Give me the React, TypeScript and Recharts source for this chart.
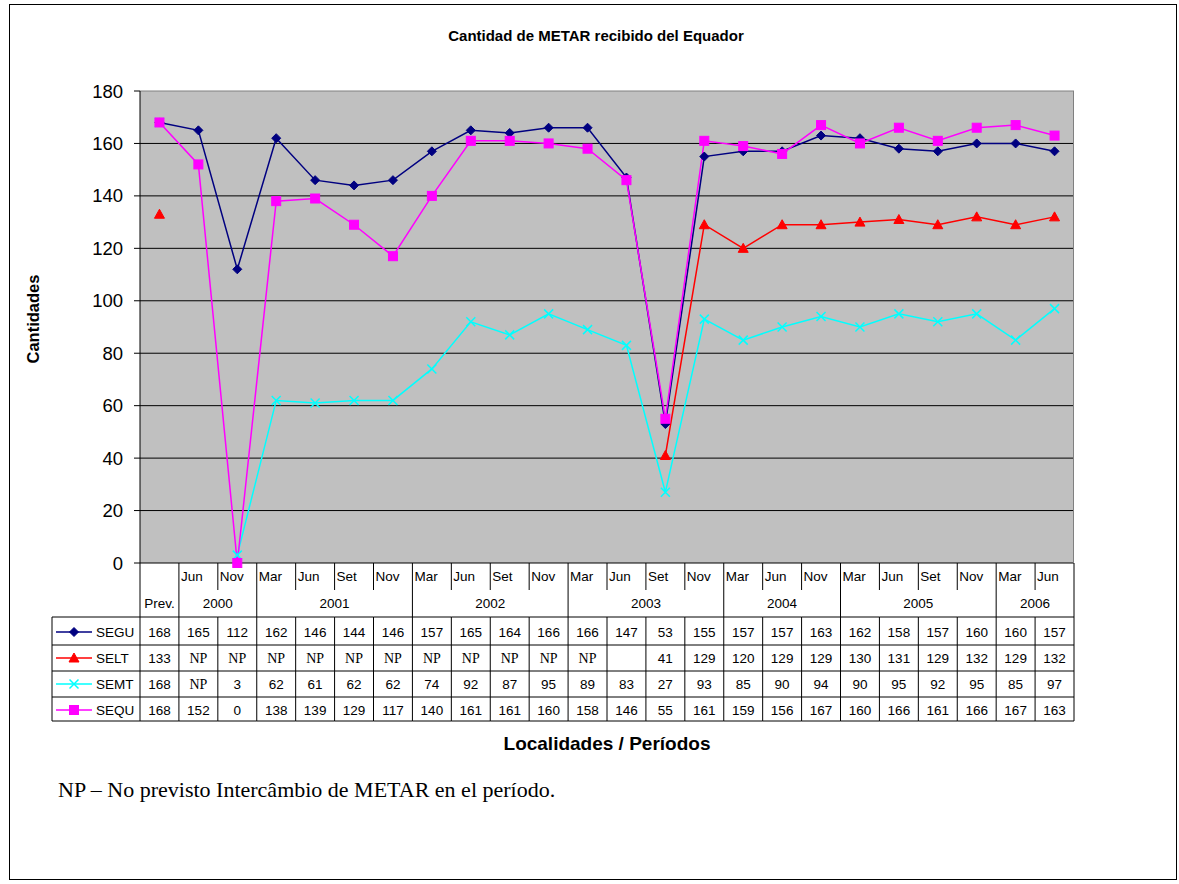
import React from 'react';
import { ComposedChart, Line, XAxis, YAxis, CartesianGrid, ReferenceLine } from 'recharts';

// columns of the data table (Prev. + periods)
const months = ['', 'Jun', 'Nov', 'Mar', 'Jun', 'Set', 'Nov', 'Mar', 'Jun', 'Set', 'Nov', 'Mar', 'Jun', 'Set', 'Nov', 'Mar', 'Jun', 'Nov', 'Mar', 'Jun', 'Set', 'Nov', 'Mar', 'Jun'];
const yearLabels = ['Prev.', '2000', '2001', '2002', '2003', '2004', '2005', '2006'];
const yearSpans = [1, 2, 4, 4, 4, 3, 4, 2];

const segu: (number | string)[] = [168, 165, 112, 162, 146, 144, 146, 157, 165, 164, 166, 166, 147, 53, 155, 157, 157, 163, 162, 158, 157, 160, 160, 157];
const selt: (number | string)[] = [133, 'NP', 'NP', 'NP', 'NP', 'NP', 'NP', 'NP', 'NP', 'NP', 'NP', 'NP', '', 41, 129, 120, 129, 129, 130, 131, 129, 132, 129, 132];
const semt: (number | string)[] = [168, 'NP', 3, 62, 61, 62, 62, 74, 92, 87, 95, 89, 83, 27, 93, 85, 90, 94, 90, 95, 92, 95, 85, 97];
const sequ: (number | string)[] = [168, 152, 0, 138, 139, 129, 117, 140, 161, 161, 160, 158, 146, 55, 161, 159, 156, 167, 160, 166, 161, 166, 167, 163];

const yTicks = [0, 20, 40, 60, 80, 100, 120, 140, 160, 180];

const series = [
  { key: 'SEGU', values: segu, color: '#000080', marker: 'diamond' },
  { key: 'SELT', values: selt, color: '#FF0000', marker: 'triangle' },
  { key: 'SEMT', values: semt, color: '#00FFFF', marker: 'cross' },
  { key: 'SEQU', values: sequ, color: '#FF00FF', marker: 'square' },
];

const num = (v: number | string) => (typeof v === 'number' ? v : null);

const data = months.map((m, i) => ({
  key: String(i),
  SEGU: num(segu[i]),
  SELT: num(selt[i]),
  SEMT: num(semt[i]),
  SEQU: num(sequ[i]),
}));

// year group starts
const groupAt: { [i: number]: { label: string; span: number } } = {};
{
  let c = 0;
  yearLabels.forEach((label, g) => {
    groupAt[c] = { label, span: yearSpans[g] };
    c += yearSpans[g];
  });
}

const W = 1179;
const H = 884;
const PLOT_L = 140;
const PLOT_R = 1074;
const PLOT_T = 91;
const PLOT_B = 563;
const COL_W = (PLOT_R - PLOT_L) / months.length;
const TABLE_H = 158;
const ROW_LINES = [54, 82, 108, 134, 158];
const ROW_BASE = [74, 100, 126, 152];
const LEGEND_L = 52;

const SANS = '"Liberation Sans", Arial, sans-serif';
const SERIF = '"Liberation Serif", "Times New Roman", serif';

function Marker({ type, cx, cy, color }: any) {
  if (type === 'diamond') {
    const s = 4.5;
    return <path d={`M${cx},${cy - s}L${cx + s},${cy}L${cx},${cy + s}L${cx - s},${cy}Z`} fill={color} stroke={color} />;
  }
  if (type === 'triangle') {
    return <path d={`M${cx},${cy - 5}L${cx + 5},${cy + 4}L${cx - 5},${cy + 4}Z`} fill={color} stroke={color} />;
  }
  if (type === 'square') {
    return <rect x={cx - 4.5} y={cy - 4.5} width={9} height={9} fill={color} stroke={color} />;
  }
  const s = 4.5;
  return (
    <path d={`M${cx - s},${cy - s}L${cx + s},${cy + s}M${cx - s},${cy + s}L${cx + s},${cy - s}`} stroke={color} strokeWidth={1.5} fill="none" />
  );
}

const makeDot = (type: string, color: string) => (p: any) => {
  const k = `dot-${type}-${p.index}`;
  if (p.cy == null || p.value == null || Number.isNaN(p.cy)) return <g key={k} />;
  return (
    <g key={k}>
      <Marker type={type} cx={p.cx} cy={p.cy} color={color} />
    </g>
  );
};

function TableTick(props: any) {
  const { x, y, payload } = props;
  const i = Number(payload.value);
  const left = x - COL_W / 2;
  const right = x + COL_W / 2;
  const group = groupAt[i];
  const line = (x1: number, y1: number, x2: number, y2: number, k: string) => (
    <line key={k} x1={x1} y1={y1} x2={x2} y2={y2} stroke="#000" strokeWidth={1} />
  );
  const els: any[] = [];

  // vertical separators
  if (i === 0) els.push(line(left, y, left, y + TABLE_H, 'l0'));
  else if (group) els.push(line(left, y, left, y + TABLE_H, 'lg'));
  else {
    els.push(line(left, y, left, y + 27, 'lm'));
    els.push(line(left, y + ROW_LINES[0], left, y + TABLE_H, 'ld'));
  }
  if (i === months.length - 1) els.push(line(right, y, right, y + TABLE_H, 'r'));

  // horizontal row lines
  ROW_LINES.forEach((ry, r) => {
    els.push(line(i === 0 ? LEGEND_L : left, y + ry, right, y + ry, `h${r}`));
  });

  // month label
  if (months[i]) {
    els.push(
      <text key="m" x={left + 2} y={y + 18} fontSize={13.5} fontFamily={SANS} fill="#000">
        {months[i]}
      </text>
    );
  }
  // year label
  if (group) {
    els.push(
      <text key="yr" x={left + (group.span * COL_W) / 2} y={y + 45} fontSize={13.5} fontFamily={SANS} fill="#000" textAnchor="middle">
        {group.label}
      </text>
    );
  }
  // values
  series.forEach((s, r) => {
    const v = s.values[i];
    if (v === '') return;
    const isNP = typeof v !== 'number';
    els.push(
      <text
        key={`v${r}`}
        x={x}
        y={y + ROW_BASE[r]}
        fontSize={isNP ? 14 : 13.5}
        fontFamily={isNP ? SERIF : SANS}
        fill="#000"
        textAnchor="middle"
      >
        {v}
      </text>
    );
  });

  // legend column
  if (i === 0) {
    els.push(line(LEGEND_L, y + ROW_LINES[0], LEGEND_L, y + TABLE_H, 'll'));
    series.forEach((s, r) => {
      const cy = y + ROW_BASE[r] - 5;
      els.push(
        <g key={`lm${r}`}>
          <line x1={56} y1={cy} x2={92} y2={cy} stroke={s.color} strokeWidth={1.5} />
          <Marker type={s.marker} cx={74} cy={cy} color={s.color} />
          <text x={96} y={y + ROW_BASE[r]} fontSize={13.5} fontFamily={SANS} fill="#000">
            {s.key}
          </text>
        </g>
      );
    });
  }
  return <g>{els}</g>;
}

export default function App() {
  return (
    <div style={{ position: 'absolute', left: 0, top: 0, width: W, height: H, background: '#fff' }}>
      <div
        style={{
          position: 'absolute',
          left: 9,
          top: 4,
          width: 1168,
          height: 876,
          border: '1px solid #000',
          boxSizing: 'border-box',
        }}
      />
      <ComposedChart
        width={W}
        height={H}
        data={data}
        margin={{ top: PLOT_T, right: W - PLOT_R, bottom: H - PLOT_B - TABLE_H, left: PLOT_L - 60 }}
      >
        <CartesianGrid horizontal={false} vertical={false} fill="#C0C0C0" />
        {yTicks.slice(1, -1).map((t) => (
          <ReferenceLine key={t} y={t} stroke="#000" strokeWidth={1} />
        ))}
        <ReferenceLine y={180} stroke="#808080" strokeWidth={1} />
        <XAxis
          dataKey="key"
          height={TABLE_H}
          interval={0}
          padding={{ left: COL_W / 2, right: COL_W / 2 }}
          tickLine={false}
          tickSize={0}
          tickMargin={0}
          axisLine={{ stroke: '#000' }}
          tick={(p: any) => <TableTick {...p} />}
        />
        <YAxis
          width={60}
          domain={[0, 180]}
          ticks={yTicks}
          interval={0}
          tickSize={6}
          tickMargin={11}
          axisLine={{ stroke: '#000' }}
          tickLine={{ stroke: '#000' }}
          tick={{ fontSize: 18.5, fontFamily: SANS, fill: '#000' }}
        />
        {series.map((s) => (
          <Line
            key={s.key}
            dataKey={s.key}
            stroke={s.color}
            strokeWidth={1.5}
            dot={makeDot(s.marker, s.color)}
            activeDot={false}
            connectNulls={false}
            isAnimationActive={false}
          />
        ))}
      </ComposedChart>
      <div
        style={{
          position: 'absolute',
          left: PLOT_R - 1,
          top: PLOT_T,
          width: 1,
          height: PLOT_B - PLOT_T,
          background: '#808080',
        }}
      />
      <div
        style={{
          position: 'absolute',
          left: 596,
          top: 35,
          transform: 'translate(-50%, -50%)',
          fontFamily: SANS,
          fontWeight: 'bold',
          fontSize: 15,
          whiteSpace: 'nowrap',
          lineHeight: 1,
        }}
      >
        Cantidad de METAR recibido del Equador
      </div>
      <div
        style={{
          position: 'absolute',
          left: 33,
          top: 319,
          transform: 'translate(-50%, -50%) rotate(-90deg)',
          fontFamily: SANS,
          fontWeight: 'bold',
          fontSize: 16.5,
          whiteSpace: 'nowrap',
          lineHeight: 1,
        }}
      >
        Cantidades
      </div>
      <div
        style={{
          position: 'absolute',
          left: (PLOT_L + PLOT_R) / 2,
          top: 743,
          transform: 'translate(-50%, -50%)',
          fontFamily: SANS,
          fontWeight: 'bold',
          fontSize: 19,
          whiteSpace: 'nowrap',
          lineHeight: 1,
        }}
      >
        Localidades / Períodos
      </div>
      <div
        style={{
          position: 'absolute',
          left: 58,
          top: 790,
          transform: 'translateY(-50%)',
          fontFamily: SERIF,
          fontSize: 22,
          whiteSpace: 'nowrap',
          lineHeight: 1,
        }}
      >
        NP – No previsto Intercâmbio de METAR en el período.
      </div>
    </div>
  );
}
